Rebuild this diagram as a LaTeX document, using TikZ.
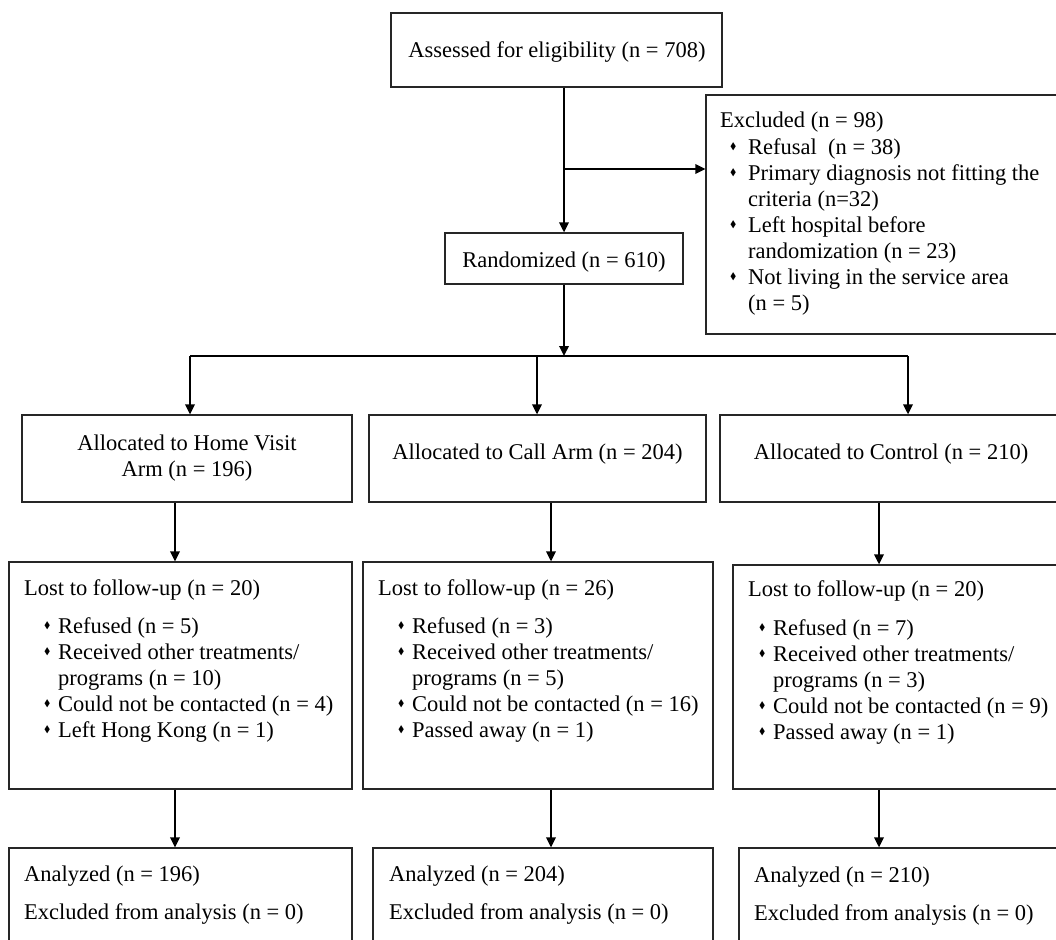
\documentclass[tikz,border=0pt]{standalone}
\usepackage{fontspec}
\setmainfont{Liberation Serif}
\usepackage{amssymb}
\usepackage{graphicx}
\usetikzlibrary{arrows.meta,fit}
\newcommand{\dmd}{\raisebox{0.22em}{\scalebox{0.42}{$\blacklozenge$}}}
\newcommand{\bul}{\strut\makebox[14pt][l]{\dmd}}
\newcommand{\ind}{\strut\hspace*{14pt}}
\newcommand{\bulx}{\strut\makebox[18pt][l]{\dmd}}
\newcommand{\indx}{\strut\hspace*{18pt}}
\begin{document}
\begin{tikzpicture}[x=1pt,y=-1pt,
  box/.style={draw=black!85, line width=1.3pt, inner sep=0pt, rectangle},
  lst/.style={font=\fontsize{22.5}{26}\selectfont, inner sep=0pt, align=left, anchor=north west},
  ttl/.style={font=\fontsize{22.5}{26}\selectfont, inner sep=0pt, anchor=base west},
  ctr/.style={font=\fontsize{22.5}{26}\selectfont, inner sep=0pt, anchor=base},
  ctrm/.style={font=\fontsize{22.5}{26}\selectfont, inner sep=0pt, align=center},
  arr/.style={line width=1.8pt, -{Triangle[length=10pt,width=9.5pt]}},
  ln/.style={line width=1.8pt}]
\useasboundingbox (0,0) rectangle (1056,939);
\clip (0,0) rectangle (1056,939);

% boxes
\node[box, fit={(391,13) (722,87)}] (assess) {};
\node[box, fit={(706,95) (1070,334)}] (excl) {};
\node[box, fit={(445,233) (683,284)}] (rand) {};
\node[box, fit={(22,415) (352,502)}] (home) {};
\node[box, fit={(369,415) (706,502)}] (call) {};
\node[box, fit={(720,415) (1070,502)}] (ctrl) {};
\node[box, fit={(9,562) (352,789)}] (hlost) {};
\node[box, fit={(363,562) (713,789)}] (clost) {};
\node[box, fit={(733,565) (1070,789)}] (tlost) {};
\node[box, fit={(9,848) (352,960)}] (hana) {};
\node[box, fit={(373,848) (713,960)}] (cana) {};
\node[box, fit={(739,848) (1070,960)}] (tana) {};

% texts
\node[ctr] (assessT) at (557,58) {Assessed for eligibility (n = 708)};
\node[ctr] (randT) at (564,267) {Randomized (n = 610)};
\node[ttl] (exT) at (720,128) {Excluded (n = 98)};
\node[lst] (exL) at (730,135.8) {\bulx Refusal\ \ (n = 38)\\ \bulx Primary diagnosis not fitting the\\ \indx criteria (n=32)\\ \bulx Left hospital before\\ \indx randomization (n = 23)\\ \bulx Not living in the service area\\ \indx (n = 5)};

\node[ctrm] (homeT) at (187,457.8) {\strut Allocated to Home Visit\\ \strut Arm (n = 196)};
\node[ctr] (callT) at (537.5,459) {Allocated to Call Arm (n = 204)};
\node[ctr] (ctrlT) at (891,459) {Allocated to Control (n = 210)};

\node[ttl] (hlT) at (24,595) {Lost to follow-up (n = 20)};
\node[lst] (hlL) at (44,614.8) {\bul Refused (n = 5)\\ \bul Received other treatments/\\ \ind programs (n = 10)\\ \bul Could not be contacted (n = 4)\\ \bul Left Hong Kong (n = 1)};
\node[ttl] (clT) at (378,595) {Lost to follow-up (n = 26)};
\node[lst] (clL) at (398,614.8) {\bul Refused (n = 3)\\ \bul Received other treatments/\\ \ind programs (n = 5)\\ \bul Could not be contacted (n = 16)\\ \bul Passed away (n = 1)};
\node[ttl] (tlT) at (748,596) {Lost to follow-up (n = 20)};
\node[lst] (tlL) at (759,616.8) {\bul Refused (n = 7)\\ \bul Received other treatments/\\ \ind programs (n = 3)\\ \bul Could not be contacted (n = 9)\\ \bul Passed away (n = 1)};

\node[ttl] (haT) at (24,881) {Analyzed (n = 196)};
\node[ttl] (haX) at (24,919) {Excluded from analysis (n = 0)};
\node[ttl] (caT) at (389,881) {Analyzed (n = 204)};
\node[ttl] (caX) at (389,919) {Excluded from analysis (n = 0)};
\node[ttl] (taT) at (754,882) {Analyzed (n = 210)};
\node[ttl] (taX) at (754,920) {Excluded from analysis (n = 0)};

% connectors
\coordinate (jx) at (564,169);
\coordinate (br) at (564,356);
\coordinate (bL) at (190,356);
\coordinate (bM) at (537,356);
\coordinate (bR) at (908,356);
\coordinate (xh) at (175,0);
\coordinate (xc) at (551,0);
\coordinate (xt) at (879,0);

\draw[arr] (rand.north |- assess.south) -- (rand.north);
\draw[arr] (jx) -- (jx -| excl.west);
\draw[ln] (bL) -- (bR);
\draw[arr] (rand.south) -- (br);
\draw[arr] (bL) -- (bL |- home.north);
\draw[arr] (bM) -- (bM |- call.north);
\draw[arr] (bR) -- (bR |- ctrl.north);

\draw[arr] (home.south -| xh) -- (hlost.north -| xh);
\draw[arr] (call.south -| xc) -- (clost.north -| xc);
\draw[arr] (ctrl.south -| xt) -- (tlost.north -| xt);
\draw[arr] (hlost.south -| xh) -- (hana.north -| xh);
\draw[arr] (clost.south -| xc) -- (cana.north -| xc);
\draw[arr] (tlost.south -| xt) -- (tana.north -| xt);
\end{tikzpicture}
\end{document}
